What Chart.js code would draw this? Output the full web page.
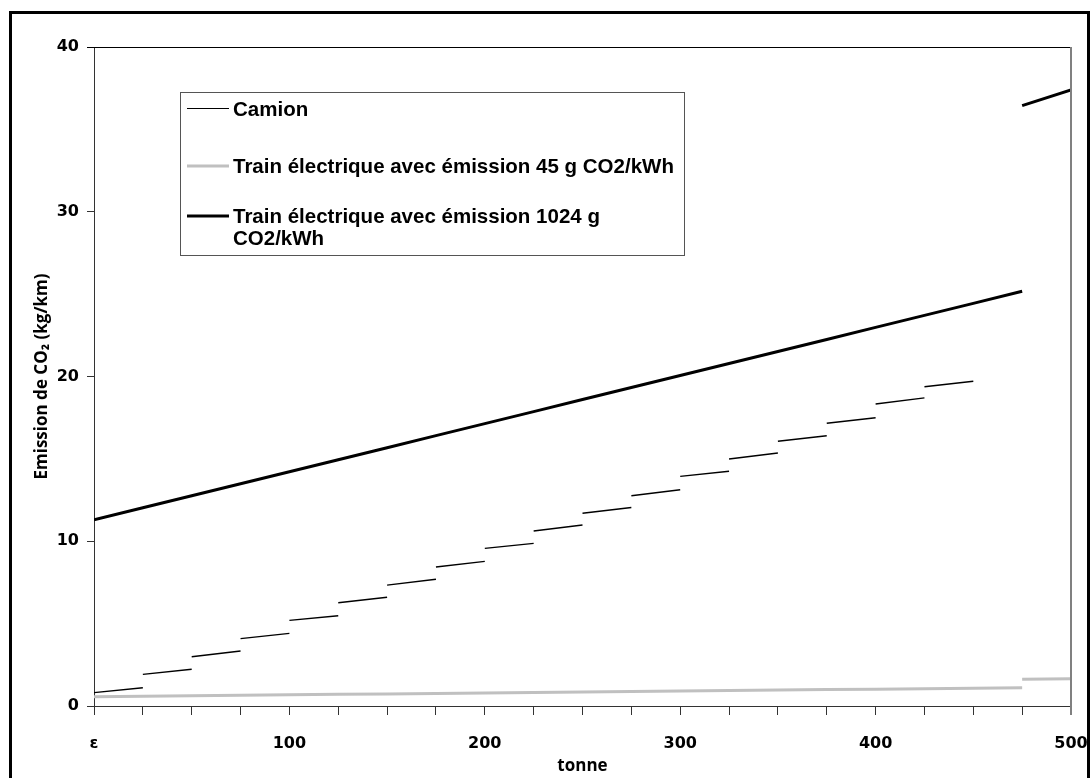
<!DOCTYPE html>
<html>
<head>
<meta charset="utf-8">
<script src="https://cdn.jsdelivr.net/npm/chart.js@4"></script>
<style>
  html, body { margin: 0; padding: 0; background: #fff; }
  canvas { display: block; }
</style>
</head>
<body>
<canvas id="co2Chart" width="1090" height="778"></canvas>
<script>
// ---------- data ----------
const XTICKS = [0, 100, 200, 300, 400, 500];
const YTICKS = [0, 10, 20, 30, 40];

// Camion: one short segment per 25 t slot (start value, end value)
const camionStart = [0.81, 1.92, 2.99, 4.09, 5.20, 6.27, 7.34, 8.44, 9.57, 10.62, 11.70, 12.76, 13.94, 14.99, 16.07, 17.16, 18.33, 19.38];
const camionEnd   = [1.11, 2.23, 3.34, 4.41, 5.48, 6.60, 7.69, 8.78, 9.87, 10.99, 12.05, 13.13, 14.25, 15.36, 16.40, 17.50, 18.70, 19.71];

// Trains: values at 0, 25, ... 475 t, then the jump segment 475 -> 500
const trainX = [0, 25, 50, 75, 100, 125, 150, 175, 200, 225, 250, 275, 300, 325, 350, 375, 400, 425, 450, 475];
const train1024 = [11.30, 12.03, 12.76, 13.49, 14.22, 14.95, 15.68, 16.41, 17.14, 17.87, 18.60, 19.33, 20.06, 20.79, 21.52, 22.25, 22.98, 23.71, 24.44, 25.17];
const train1024Tail = [36.44, 37.39];
const train45 = [0.56, 0.59, 0.62, 0.65, 0.68, 0.71, 0.73, 0.76, 0.79, 0.82, 0.85, 0.88, 0.91, 0.94, 0.97, 1.00, 1.02, 1.05, 1.08, 1.11];
const train45Tail = [1.62, 1.66];
const tailX = [475, 500];

const LABELS = [
  'Camion',
  'Train électrique avec émission 45 g CO2/kWh',
  ['Train électrique avec émission 1024 g', 'CO2/kWh'],
];

// ---------- build point lists ----------
const camionPts = [];
camionStart.forEach((s, k) => {
  camionPts.push({ x: k * 25, y: s });
  camionPts.push({ x: (k + 1) * 25, y: camionEnd[k] });
  camionPts.push({ x: (k + 1) * 25, y: null });
});

function trainPts(vals, tail) {
  const pts = trainX.map((x, i) => ({ x, y: vals[i] }));
  pts.push({ x: tailX[0], y: null });
  tailX.forEach((x, i) => pts.push({ x, y: tail[i] }));
  return pts;
}

const TICK_FONT = { family: '"DejaVu Sans", Verdana, sans-serif', size: 16, weight: 'bold' };
const TITLE_FONT = { family: '"Open Sans", "Noto Sans", sans-serif', size: 17, weight: 'bold' };

// outer frame + plot box + legend
const framePlugin = {
  id: 'frame',
  beforeDraw(chart) {
    const c = chart.ctx;
    c.save();
    c.fillStyle = '#fff';
    c.fillRect(0, 0, chart.width, chart.height);
    c.strokeStyle = '#000';
    c.lineWidth = 3;
    c.beginPath();
    c.moveTo(10.5, chart.height + 5);
    c.lineTo(10.5, 12.5);
    c.lineTo(1088.5, 12.5);
    c.lineTo(1088.5, chart.height + 5);
    c.stroke();
    c.restore();
  },
  afterDraw(chart) {
    const a = chart.chartArea;
    const c = chart.ctx;
    c.save();
    c.lineWidth = 1;
    c.strokeStyle = '#000';
    c.beginPath();
    c.moveTo(a.left - 7, Math.round(a.top) + 0.5);
    c.lineTo(a.right, Math.round(a.top) + 0.5);
    c.stroke();
    c.strokeStyle = '#808080';
    c.lineWidth = 2;
    c.beginPath();
    c.moveTo(Math.round(a.right), a.top);
    c.lineTo(Math.round(a.right), a.bottom + 9);
    c.stroke();

    // legend box
    const bx = 180.5, by = 92.5, bw = 504, bh = 163;
    c.strokeStyle = '#555';
    c.lineWidth = 1;
    c.strokeRect(bx, by, bw, bh);
    const rows = [
      { y: 108.5, color: '#000', w: 1 },
      { y: 166, color: '#c0c0c0', w: 3 },
      { y: 216, color: '#000', w: 3 },
    ];
    c.font = 'bold 20.5px "Liberation Sans", Arial, sans-serif';
    c.textBaseline = 'middle';
    c.fillStyle = '#000';
    rows.forEach((r, i) => {
      c.strokeStyle = r.color;
      c.lineWidth = r.w;
      c.beginPath();
      c.moveTo(187, r.y);
      c.lineTo(229, r.y);
      c.stroke();
      const txt = LABELS[i];
      const ty = Math.round(r.y) + 1;
      if (Array.isArray(txt)) {
        txt.forEach((t, j) => c.fillText(t, 233, ty + j * 22));
      } else {
        c.fillText(txt, 233, ty);
      }
    });
    c.restore();
  }
};

new Chart(document.getElementById('co2Chart'), {
  type: 'line',
  data: {
    datasets: [
      {
        label: LABELS[1],
        data: trainPts(train45, train45Tail),
        borderColor: '#c0c0c0',
        borderWidth: 3,
        pointRadius: 0,
        spanGaps: false,
      },
      {
        label: LABELS[0],
        data: camionPts,
        borderColor: '#000',
        borderWidth: 1.4,
        pointRadius: 0,
        spanGaps: false,
      },
      {
        label: LABELS[2].join(' '),
        data: trainPts(train1024, train1024Tail),
        borderColor: '#000',
        borderWidth: 3,
        pointRadius: 0,
        spanGaps: false,
      },
    ]
  },
  options: {
    responsive: false,
    animation: false,
    events: [],
    layout: { padding: { top: 47, right: 19, left: 0, bottom: 0 } },
    plugins: { legend: { display: false }, tooltip: { enabled: false } },
    scales: {
      x: {
        type: 'linear', min: 0, max: 500,
        afterFit: (s) => { s.height = 72; s.paddingRight = 0; s.paddingLeft = 0; },
        afterBuildTicks: (s) => { s.ticks = []; for (let v = 0; v <= 500; v += 25) s.ticks.push({ value: v }); },
        ticks: {
          autoSkip: false, maxRotation: 0, padding: 19, color: '#000', font: TICK_FONT,
          callback: (v) => v === 0 ? 'ε' : (XTICKS.includes(v) ? String(v) : ''),
        },
        grid: { drawOnChartArea: false, drawTicks: true, tickLength: 9, color: '#333' },
        border: { color: '#333', width: 1 },
        title: { display: true, text: 'tonne', color: '#000', font: TITLE_FONT, padding: { top: 0, bottom: 2 } },
      },
      y: {
        min: 0, max: 40,
        afterFit: (s) => { s.width = 94; s.paddingTop = 0; s.paddingBottom = 0; },
        afterBuildTicks: (s) => { s.ticks = YTICKS.map(v => ({ value: v })); },
        ticks: { padding: 8, color: '#000', font: TICK_FONT },
        grid: { drawOnChartArea: false, drawTicks: true, tickLength: 7, color: '#333' },
        border: { color: '#333', width: 1 },
        title: { display: true, text: 'Emission de CO₂ (kg/km)', color: '#000', font: TITLE_FONT, padding: { top: 32, bottom: 0 } },
      },
    }
  },
  plugins: [framePlugin]
});
</script>
</body>
</html>
